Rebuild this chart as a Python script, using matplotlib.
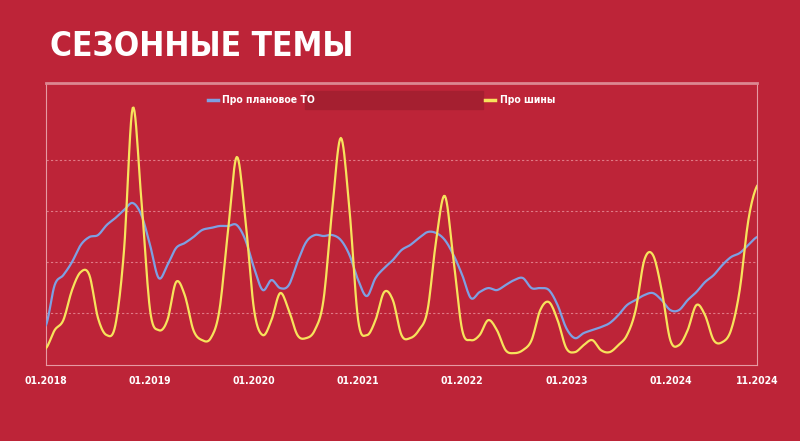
import matplotlib.pyplot as plt
import numpy as np
from matplotlib.lines import Line2D
from matplotlib.patches import Rectangle

BG = "#BD2438"
BLUE = "#7EA0E2"
YELLOW = "#F7E35C"
NARROW = dict(fontfamily="DejaVu Sans", fontstretch="condensed", fontweight="bold")

# monthly values, 01.2018 .. 11.2024
planned_to = [
    40, 80, 90, 103, 120, 128, 130, 140, 147, 155,
    162, 150, 120, 87, 100, 117, 122, 128, 135, 137,
    139, 139, 140, 125, 97, 75, 85, 77, 80, 103,
    123, 130, 129, 130, 125, 110, 85, 69, 87, 97,
    105, 115, 120, 127, 133, 132, 125, 110, 90, 67,
    73, 77, 75, 80, 85, 87, 77, 77, 75, 60,
    37, 27, 32, 35, 38, 42, 50, 60, 65, 70,
    72, 65, 55, 55, 65, 73, 83, 90, 100, 108,
    112, 120, 128,
]
tires = [
    17, 35, 45, 75, 93, 90, 47, 30, 40, 115,
    257, 165, 55, 35, 45, 83, 70, 35, 25, 27,
    55, 135, 208, 145, 55, 30, 45, 72, 55, 30,
    27, 35, 65, 155, 227, 155, 45, 30, 45, 73,
    65, 30, 27, 35, 55, 125, 169, 105, 35, 25,
    30, 45, 35, 15, 12, 15, 25, 55, 63, 45,
    17, 13, 20, 25, 15, 13, 20, 30, 55, 105,
    110, 75, 25, 20, 35, 60, 50, 25, 23, 35,
    75, 145, 179,
]
tick_months = [0, 12, 24, 36, 48, 60, 72, 82]
tick_labels = ["01.2018", "01.2019", "01.2020", "01.2021", "01.2022", "01.2023", "01.2024", "11.2024"]
grid_levels = [52, 103, 154, 205]


def smooth(values, steps=10):
    """Catmull-Rom curve through the monthly points."""
    p = np.asarray(values, dtype=float)
    p = np.concatenate([[p[0]], p, [p[-1]]])
    xs, ys = [], []
    for i in range(1, len(p) - 2):
        t = np.linspace(0, 1, steps, endpoint=False)
        p0, p1, p2, p3 = p[i - 1], p[i], p[i + 1], p[i + 2]
        y = 0.5 * (2 * p1 + (-p0 + p2) * t + (2 * p0 - 5 * p1 + 4 * p2 - p3) * t ** 2
                   + (-p0 + 3 * p1 - 3 * p2 + p3) * t ** 3)
        xs.extend(i - 1 + t)
        ys.extend(y)
    xs.append(len(values) - 1)
    ys.append(values[-1])
    return np.array(xs), np.array(ys)


fig = plt.figure(figsize=(8, 4.41), dpi=100, facecolor=BG)
ax = fig.add_axes([0.0575, 0.172, 0.8888, 0.64])
ax.set_facecolor(BG)

for level in grid_levels:
    ax.axhline(level, color="#E07A86", lw=0.8, ls=(0, (2, 2)), zorder=1)

x, y = smooth(planned_to)
ax.plot(x, y, color=BLUE, lw=1.6, zorder=3)
x, y = smooth(tires)
ax.plot(x, y, color=YELLOW, lw=1.6, zorder=4)

ax.set_xlim(0, len(tires) - 1)
ax.set_ylim(0, 282)
for side in ["left", "right", "bottom"]:
    ax.spines[side].set_color("#E69AA3")
    ax.spines[side].set_linewidth(0.8)
ax.spines["top"].set_color("#DC8791")
ax.spines["top"].set_linewidth(2)
ax.set_yticks([])
ax.set_xticks(tick_months)
ax.set_xticklabels(tick_labels, fontsize=7.5, color="white", **NARROW)
ax.tick_params(axis="x", length=0, pad=8)

# legend
fig.patches.append(Rectangle((305 / 800, 1 - 109 / 441), 178 / 800, 18 / 441,
                             transform=fig.transFigure, color="#A51F30", zorder=0))
fig.lines.append(Line2D([208 / 800, 218 / 800], [1 - 100 / 441] * 2, color=BLUE, lw=2.5,
                        transform=fig.transFigure))
fig.text(222 / 800, 1 - 100 / 441, "Про плановое ТО", fontsize=7.5, color="white",
         va="center", **NARROW)
fig.lines.append(Line2D([485 / 800, 495 / 800], [1 - 100 / 441] * 2, color=YELLOW, lw=2.5,
                        transform=fig.transFigure))
fig.text(500 / 800, 1 - 100 / 441, "Про шины", fontsize=7.5, color="white",
         va="center", **NARROW)

fig.text(50 / 800, 1 - 47 / 441, "СЕЗОННЫЕ ТЕМЫ", fontsize=24, color="white",
         va="center", **NARROW)

fig.savefig("out.png", facecolor=BG)
